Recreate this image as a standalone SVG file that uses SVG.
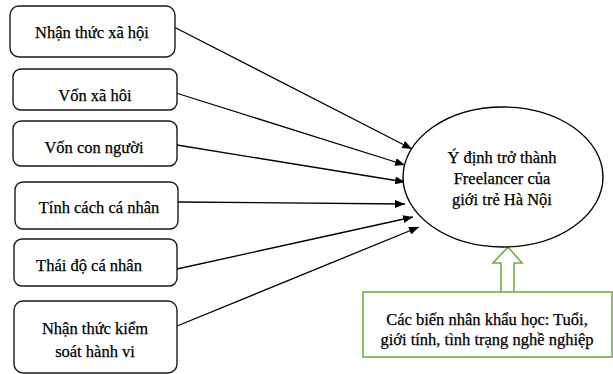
<svg xmlns="http://www.w3.org/2000/svg" width="613" height="374" viewBox="0 0 613 374">
<style>
.box{fill:#fff;stroke:#1a1a1a;stroke-width:1.4}
.t{font-family:"Liberation Serif","Times New Roman",serif;font-size:16.5px;fill:#000;stroke:#000;stroke-width:0.25;text-anchor:middle}
.c{stroke:#000;stroke-width:1.3;fill:none;marker-end:url(#ah)}
.g{fill:#fff;stroke:#70AD47;stroke-width:1.6}
</style>
<defs>
<marker id="ah" viewBox="0 0 10 8" refX="10" refY="4" markerWidth="10" markerHeight="8" markerUnits="userSpaceOnUse" orient="auto">
<path d="M0,0 L10,4 L0,8 Z" fill="#000"/>
</marker>
</defs>
<rect width="613" height="374" fill="#fff"/>
<g id="connectors">
<line class="c" x1="174" y1="27" x2="412" y2="149"/>
<line class="c" x1="176" y1="93" x2="405" y2="165"/>
<line class="c" x1="177" y1="145" x2="405" y2="182"/>
<line class="c" x1="177" y1="202" x2="405" y2="204"/>
<line class="c" x1="177" y1="269" x2="413" y2="217"/>
<line class="c" x1="177" y1="326" x2="419" y2="227"/>
<path class="g" d="M501,292 L501,263 L493,263 L508,247 L522,263 L514,263 L514,292"/>
</g>
<g id="n1"><rect class="box" x="10" y="6" width="165" height="51" rx="9"/><text class="t" x="92" y="38">Nhận thức xã hội</text></g>
<g id="n2"><rect class="box" x="13" y="69" width="164" height="41" rx="8"/><text class="t" x="95" y="101">Vốn xã hôi</text></g>
<g id="n3"><rect class="box" x="13" y="121" width="164" height="45" rx="8"/><text class="t" x="94" y="153">Vốn con người</text></g>
<g id="n4"><rect class="box" x="15" y="182" width="163" height="47" rx="8"/><text class="t" x="99" y="213">Tính cách cá nhân</text></g>
<g id="n5"><rect class="box" x="14" y="239" width="163" height="47" rx="8"/><text class="t" x="89" y="271">Thái độ cá nhân</text></g>
<g id="n6"><rect class="box" x="14" y="301" width="163" height="72" rx="9"/><text class="t" x="95" y="334">Nhận thức kiểm</text><text class="t" x="95" y="357">soát hành vi</text></g>
<g id="target"><ellipse cx="503" cy="177" rx="100" ry="70" fill="#fff" stroke="#000" stroke-width="1.4"/>
<text class="t" x="502" y="163">Ý định trở thành</text>
<text class="t" x="502" y="184">Freelancer của</text>
<text class="t" x="502" y="205">giới trẻ Hà Nội</text></g>
<g id="demo"><rect class="g" x="363" y="292" width="249" height="65"/>
<text class="t" x="487" y="325">Các biến nhân khẩu học: Tuổi,</text>
<text class="t" x="487" y="345">giới tính, tình trạng nghề nghiệp</text></g>
</svg>
